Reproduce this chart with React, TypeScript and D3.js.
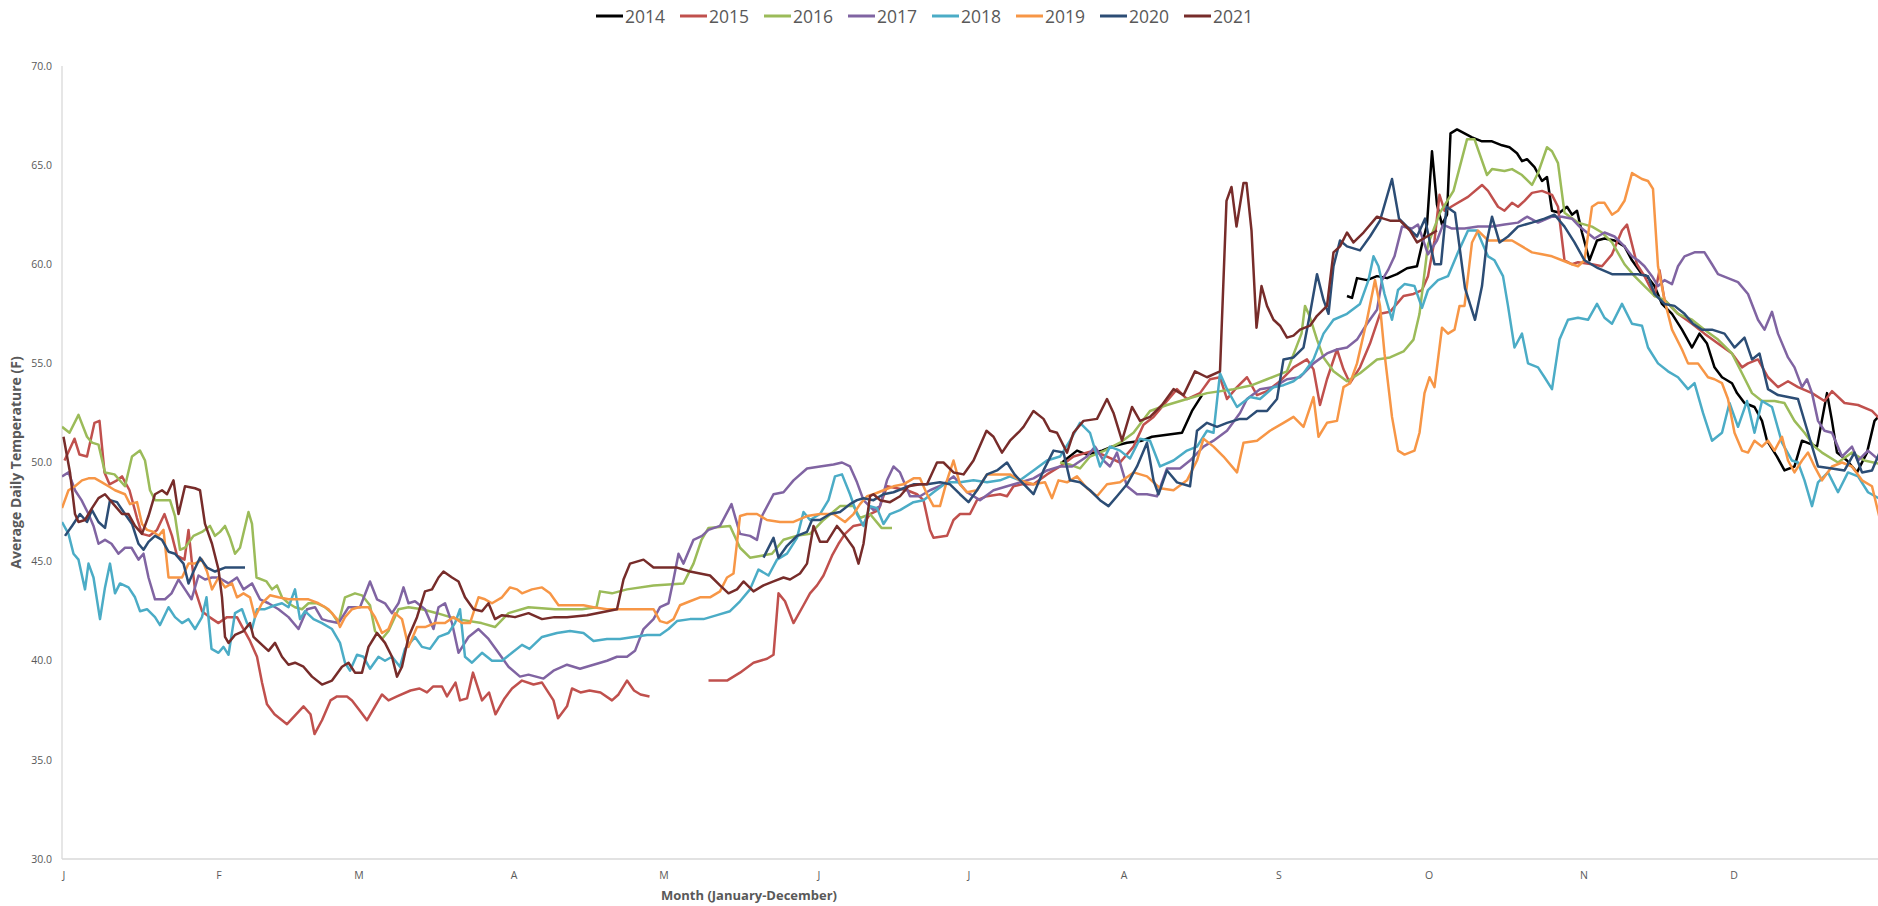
import * as d3 from "d3";

// daily average temperature as [dayOfYear, °F]; null = gap
type Pt = [number, number | null];

const YEARS = ["2014", "2015", "2016", "2017", "2018", "2019", "2020", "2021"];
const COLORS = ["#000000", "#C0504D", "#9BBB59", "#8064A2", "#4BACC6", "#F79646", "#2C4D75", "#772C2A"];

const MONTHS = ["J", "F", "M", "A", "M", "J", "J", "A", "S", "O", "N", "D"];
const MONTH_START = [0, 31, 59, 90, 120, 151, 181, 212, 243, 273, 304, 334];
const Y_TICKS = [30, 35, 40, 45, 50, 55, 60, 65, 70];

const T2014: Pt[] = [
  [200,50.0],[203,50.6],[205,50.4],[208,50.6],[210,50.8],[213,51.0],[216,51.1],[218,51.3],[221,51.4],[224,51.5],[226,52.6],[228,53.4],[240,null],
  [257,58.4],[258,58.3],[259,59.3],[261,59.2],[263,59.4],[265,59.3],[267,59.5],[269,59.8],[271,59.9],[272,61.0],[273,62.0],[274,65.7],[275,63.0],[276,62.0],[277,62.5],[277.7,66.6],[279,66.8],[280.5,66.6],[282,66.4],[284,66.2],[286,66.2],[288,66.0],[289.5,65.9],[291,65.6],[292,65.2],[293,65.3],[294.5,64.9],[296,64.2],[297,64.4],[298,62.7],[299.5,62.6],[301,62.9],[302,62.5],[303,62.7],[304,61.6],[305.5,60.2],[307,61.2],[308.5,61.3],[310.5,61.2],[312.5,60.9],[314,60.2],[316,59.5],[317,59.4],[318.5,58.9],[320,58.0],[322,57.5],[324,56.7],[326,55.8],[327.5,56.5],[329,56.0],[330.5,54.8],[332,54.3],[334,54.0],[335,53.5],[336.5,53.0],[338.5,52.8],[340,52.1],[341,51.1],[343,50.3],[344.5,49.6],[346.5,49.8],[348,51.1],[349,51.0],[351,50.8],[353,53.5],[354,52.1],[355,50.5],[357,50.1],[359,49.5],[361,50.5],[362.5,52.1],[364,52.5],
];

const T2015: Pt[] = [
  [0.5,50.1],[2.5,51.2],[3.5,50.4],[5,50.3],[6.5,52.0],[7.5,52.1],[8.5,49.5],[9.5,48.9],[11,49.1],[12,49.3],[13.5,48.6],[15,47.2],[16,46.4],[17.5,46.3],[19,46.6],[20.5,47.4],[22,46.3],[23,45.3],[24.5,45.1],[25.3,46.6],[26,44.9],[26.6,43.6],[28,42.5],[29.5,42.2],[31.3,41.9],[33,42.2],[35,42.2],[36.3,41.6],[37.6,41.0],[39,40.2],[40,38.9],[41,37.8],[42.5,37.3],[45,36.8],[48.3,37.7],[49.7,37.3],[50.5,36.3],[52,37.0],[53.7,38.0],[55,38.2],[57,38.2],[58,38.0],[59.5,37.5],[61,37.0],[62.6,37.7],[64,38.3],[65.3,38.0],[67,38.2],[69.7,38.5],[71.5,38.6],[73,38.4],[74.2,38.7],[76,38.7],[77,38.2],[78.7,38.9],[79.6,38.0],[81,38.1],[82.2,39.4],[84,38.0],[85.4,38.4],[86.7,37.3],[88.5,38.1],[90,38.6],[92,39.0],[94.3,38.8],[96,38.9],[98.3,38.0],[99.2,37.1],[101,37.7],[102,38.6],[103.7,38.4],[105.5,38.5],[107.7,38.4],[110,38.0],[111.3,38.3],[113,39.0],[114.4,38.5],[115.7,38.3],[117.5,38.2],[123,null],
  [129.3,39.0],[133,39.0],[135.6,39.4],[138.3,39.9],[141,40.1],[142.3,40.3],[143.3,43.4],[144.6,43.0],[146.3,41.9],[148.3,42.8],[149.6,43.4],[151,43.8],[152.3,44.3],[154,45.3],[155.3,45.9],[156.6,46.4],[158.3,46.8],[160.3,46.9],[161.6,47.4],[163.3,47.6],[165,48.8],[167,48.7],[169,48.6],[171,48.4],[172.3,48.1],[173.6,46.6],[174.3,46.2],[177,46.3],[178.3,47.1],[179.6,47.4],[181.6,47.4],[183,48.1],[185,48.3],[187.6,48.4],[189,48.3],[190.3,48.8],[192,48.9],[194.3,48.9],[197,49.4],[199.6,49.8],[202.3,50.3],[206.3,50.6],[209,50.3],[211.6,50.0],[214.3,50.8],[216.3,51.9],[218.3,52.3],[221,53.1],[223,53.7],[225,53.2],[227.6,53.5],[229.6,54.2],[231.6,54.3],[233,53.2],[235,53.8],[237,54.3],[239,53.4],[241,53.6],[243.6,54.1],[246.3,54.8],[249,55.2],[250.3,54.7],[251.6,52.9],[253,54.2],[255,55.7],[256.3,54.7],[257.6,54.0],[259.6,54.8],[261.6,56.0],[263.6,57.5],[265.6,57.6],[268.3,58.4],[270.3,58.5],[272,58.7],[273.2,59.4],[274.5,61.2],[275.5,63.5],[276.5,62.7],[278.5,63.0],[281.2,63.4],[284,64.0],[285.2,63.7],[287.2,62.9],[288.5,62.7],[290,63.1],[291.2,62.9],[292.5,63.2],[294,63.6],[296,63.7],[298,63.5],[299.2,62.9],[300.5,60.2],[302,60.0],[303.2,60.1],[306,60.0],[308,59.9],[310,60.5],[312,61.7],[313,62.0],[314,61.0],[315,60.0],[316.5,59.4],[318.5,58.4],[319.5,59.7],[320.5,58.2],[323.2,57.5],[326,57.0],[328.5,56.5],[331.2,56.0],[334,55.5],[336,54.8],[337.2,55.0],[339.2,55.2],[341.2,54.3],[343.2,53.8],[345.2,54.1],[347.2,53.8],[350,53.5],[352.5,53.1],[354,53.6],[356.5,53.0],[359.2,52.9],[362,52.6],[364,52.1],
];

const T2016: Pt[] = [
  [0,51.8],[1.5,51.5],[3.3,52.4],[5,51.3],[6,51.0],[7.3,50.9],[8.6,49.5],[10.5,49.4],[12.6,48.8],[14,50.3],[15.6,50.6],[16.6,50.1],[17.6,48.6],[18.6,48.1],[20,48.1],[21.6,48.1],[22.6,47.3],[23.6,45.6],[24.6,45.7],[26.3,46.3],[28,46.5],[29.6,46.8],[30.6,46.3],[31.6,46.5],[32.6,46.8],[33.6,46.2],[34.6,45.4],[35.6,45.7],[37.3,47.5],[38,46.9],[38.9,44.2],[40.9,44.0],[42,43.6],[43,43.8],[44,43.2],[45.3,42.9],[46.6,42.7],[48,42.6],[49.3,42.9],[51,42.9],[52.6,42.7],[54,42.4],[55.3,41.9],[56.6,43.2],[58.6,43.4],[60,43.3],[61.6,42.8],[62.6,41.5],[64,41.1],[65.3,41.5],[67.3,42.6],[69.3,42.7],[72,42.6],[75,42.4],[79,42.1],[83.9,41.9],[86.6,41.7],[89.3,42.4],[93.3,42.7],[98.6,42.6],[104,42.6],[106.9,42.7],[107.6,43.5],[110,43.4],[113,43.6],[118.3,43.8],[124.3,43.9],[126.3,44.9],[127.9,46.1],[129.3,46.7],[133.6,46.8],[135.6,45.7],[137.6,45.2],[139.9,45.3],[142,45.4],[144.3,46.1],[146.9,46.3],[149.6,46.4],[152.3,47.1],[155.6,47.8],[158.3,47.8],[159.6,47.2],[161.6,47.4],[163.9,46.7],[166,46.7],[180,null],
  [199.6,50.0],[201.5,49.9],[203.6,49.7],[205.6,50.3],[208.5,50.6],[211.6,51.0],[214.3,51.5],[217.6,52.6],[221,52.9],[225,53.2],[229,53.5],[234.3,53.7],[238,53.9],[241,54.2],[245,54.6],[247.9,56.5],[248.6,57.9],[249.5,57.4],[251,56.2],[252.3,55.3],[254.3,54.6],[257,54.1],[259.6,54.5],[263,55.2],[265.6,55.3],[268.3,55.6],[270.3,56.2],[271.5,57.5],[273.2,61.0],[275.6,62.6],[278.3,63.7],[281,66.3],[282.5,66.3],[285,64.5],[286,64.8],[288.5,64.7],[290,64.8],[292,64.5],[294,64.0],[295.2,64.6],[297,65.9],[298,65.7],[299.2,65.1],[300.5,62.6],[303.2,62.1],[306,61.9],[308,61.6],[310,61.1],[312.5,60.0],[314.5,59.4],[316.5,58.9],[318.5,58.4],[320.5,58.2],[323.2,57.5],[326,57.2],[328.5,56.7],[331.2,56.2],[334,55.5],[336,54.5],[338,53.5],[340,53.1],[342.5,53.1],[344.5,53.0],[346.5,52.1],[348.5,51.5],[350.5,50.8],[352,50.5],[355.2,50.0],[358,50.5],[360.5,50.1],[364,49.9],
];

const T2017: Pt[] = [
  [0,49.3],[1.3,49.5],[2.6,48.6],[3.9,48.1],[5.3,47.4],[6.3,46.8],[7.3,45.9],[8.6,46.1],[9.9,45.9],[11.3,45.4],[12.6,45.7],[13.9,45.7],[15.3,45.1],[16.3,45.4],[17.3,44.2],[18.6,43.1],[20.6,43.1],[21.9,43.4],[23.3,44.1],[24.6,43.6],[25.9,43.1],[27.3,44.3],[28.6,44.1],[30,44.2],[31.3,44.2],[33.3,43.9],[35,44.2],[36.3,43.6],[38,43.9],[39.6,43.1],[41.3,42.9],[43.3,42.6],[45.3,42.2],[47.3,41.6],[49,42.6],[50.6,42.7],[52,42.1],[53.3,42.0],[55.3,41.9],[57.3,42.7],[59.6,42.7],[61.6,44.0],[63,43.1],[64.6,42.9],[66,42.4],[67.3,42.9],[68.3,43.7],[69.3,42.9],[70.6,43.0],[72.6,42.6],[74.3,41.6],[75.3,42.7],[76.6,42.9],[78,41.9],[79.3,40.4],[81.3,41.2],[83.3,41.6],[85.3,41.1],[87.3,40.4],[89.3,39.7],[91.6,39.2],[93.3,39.3],[96.3,39.1],[98.3,39.5],[101,39.8],[103.6,39.6],[106.3,39.8],[109,40.0],[111,40.2],[113,40.2],[114.6,40.5],[116.3,41.6],[118.3,42.1],[119.6,42.7],[121.3,42.9],[122.3,44.1],[123.3,45.4],[124.3,44.9],[126.3,46.1],[128,46.3],[129.3,46.6],[131.6,46.8],[133.9,47.9],[135.6,46.4],[137.6,46.3],[139,46.1],[140,47.3],[142.3,48.4],[144.3,48.5],[146.3,49.1],[149,49.7],[151.6,49.8],[154.3,49.9],[156,50.0],[157.6,49.8],[159,49.0],[160.3,48.1],[162.3,47.6],[163.6,47.8],[165,49.1],[166.3,49.8],[167.6,49.5],[169.6,48.3],[171.6,48.3],[173.6,48.6],[176.3,48.9],[178.3,49.3],[181,48.5],[183.6,48.1],[186.3,48.6],[189,48.8],[191.6,49.0],[194.3,49.2],[197,49.6],[199.6,49.8],[202,49.8],[205,50.3],[206.6,50.8],[208.3,50.1],[209.6,49.8],[211,50.5],[213,48.8],[215,48.4],[217,48.4],[219,48.3],[221,49.7],[223.6,49.7],[225.6,50.1],[228.3,50.8],[230.3,51.1],[233,51.6],[235.6,52.5],[237,53.2],[239.6,53.7],[242.3,53.8],[245,54.2],[247.6,54.3],[250.3,55.0],[253,55.5],[255,55.7],[257,55.8],[259,56.2],[261,57.0],[263,57.7],[264,59.2],[265.2,59.7],[266.5,60.4],[268,61.9],[270,61.8],[271.2,62.0],[273.2,60.5],[275,61.2],[276.2,62.0],[278,61.8],[280.5,61.8],[283.2,61.9],[286,61.9],[288.5,62.0],[291.2,62.1],[293,62.4],[295.2,62.1],[298,62.4],[300,62.4],[302,62.3],[303.5,61.9],[305,61.6],[306.5,61.3],[308.5,61.6],[310.5,61.4],[312.5,60.9],[314,60.4],[315.2,60.2],[316.5,59.9],[318,59.4],[319.2,58.9],[320.5,59.2],[322,59.0],[323.2,59.9],[324.5,60.4],[326.5,60.6],[328.5,60.6],[330,60.0],[331.2,59.5],[333.2,59.3],[335.2,59.1],[337.2,58.5],[339.2,57.2],[340.5,56.7],[342,57.6],[343.2,56.5],[345.2,55.3],[346.5,54.8],[348,53.8],[349,54.2],[350,53.5],[351.2,52.1],[352.5,51.6],[354,51.5],[356,50.3],[358,50.8],[359.2,50.1],[361.2,50.6],[364,50.0],
];

const T2018: Pt[] = [
  [0,47.0],[1.3,46.4],[2.3,45.4],[3.3,45.1],[4.6,43.6],[5.3,44.9],[6.3,44.2],[7.6,42.1],[8.6,43.7],[9.6,44.9],[10.6,43.4],[11.6,43.9],[13.3,43.7],[14.6,43.2],[15.6,42.5],[17,42.6],[18.6,42.2],[19.6,41.8],[21.3,42.7],[22.6,42.2],[24,41.9],[25.3,42.1],[26.6,41.6],[28,42.2],[28.9,43.2],[29.9,40.6],[31.3,40.4],[32.3,40.7],[33.3,40.3],[34.6,42.4],[36,42.6],[37,41.9],[38,41.6],[39,42.6],[40.6,42.6],[42.6,42.8],[44,42.9],[45.3,42.7],[46.6,43.6],[47.6,42.1],[48.6,42.5],[50.3,42.1],[52,41.9],[54,41.6],[55.6,40.9],[56.6,39.9],[57.6,39.5],[59,40.3],[60.3,40.2],[61.6,39.6],[63.3,40.2],[64.6,40.0],[66,40.2],[67.6,39.7],[68.6,40.6],[70.6,41.2],[72,40.7],[73.6,40.6],[75.3,41.2],[77.3,41.4],[78.6,41.9],[79.6,42.6],[80.6,40.2],[82,39.9],[84,40.4],[86,40.0],[88,40.0],[90,40.4],[92,40.8],[93.5,40.6],[96,41.2],[99,41.4],[101.6,41.5],[104.3,41.4],[106.3,41.0],[109,41.1],[111.6,41.1],[114.3,41.2],[117,41.3],[119.6,41.3],[121.3,41.6],[123,42.0],[125.6,42.1],[128.3,42.1],[131,42.3],[133.6,42.5],[135.6,43.0],[137.6,43.6],[139.3,44.6],[141.3,44.3],[143,45.1],[145,45.4],[147,46.2],[148.3,47.5],[149.6,47.1],[151.6,47.4],[153.3,48.1],[154.6,49.3],[156,49.4],[157.6,48.4],[159,47.4],[160.3,46.8],[161.6,47.8],[163,47.7],[164.3,46.9],[165.6,47.4],[167.6,47.6],[170.3,48.0],[172.3,48.1],[174.3,48.5],[177,49.0],[179.6,49.0],[182.3,49.1],[185,49.0],[187.6,49.1],[189.6,49.3],[191.6,49.1],[194.3,49.6],[197,50.1],[199.6,50.3],[201.6,51.1],[203.6,52.0],[205.6,51.5],[207.6,49.8],[209.6,50.8],[211.6,50.6],[213.6,50.2],[215.6,51.2],[217.6,51.1],[219.6,49.8],[222.3,50.1],[225,50.6],[227,50.8],[229,51.6],[230.3,51.5],[231.6,54.5],[233,53.7],[235,52.8],[237.6,53.3],[239.6,53.2],[242.3,53.8],[244.3,53.9],[246.3,54.1],[248.3,54.5],[250.3,55.2],[252.3,56.5],[254.3,57.2],[257,57.5],[259.6,58.0],[261.3,59.2],[262.3,60.4],[263.3,59.9],[264.5,58.5],[266,57.2],[267.2,58.7],[268.5,59.0],[270.5,58.9],[272,57.8],[273.2,58.7],[275.2,59.2],[277.2,59.4],[279.2,60.6],[281.2,61.7],[283,61.7],[284,61.1],[285.2,60.4],[286.5,60.2],[288.2,59.4],[289.2,57.9],[290.5,55.8],[292,56.5],[293.2,55.0],[295.2,54.8],[296.5,54.3],[298,53.7],[299.5,56.2],[301.2,57.2],[303.2,57.3],[305.2,57.2],[307,58.0],[308.5,57.3],[310,57.0],[312,58.0],[314,57.0],[316,56.9],[317.2,55.8],[319.2,55.0],[321.2,54.6],[323.2,54.3],[325.2,53.7],[326.5,54.0],[328.2,52.5],[330,51.1],[332,51.5],[333.5,53.0],[335.2,51.8],[337,53.1],[338.5,51.5],[340,53.1],[342,52.8],[344,51.0],[346,50.1],[347.2,50.0],[348.5,49.1],[350,47.8],[351.2,49.0],[353.2,49.5],[355.2,48.5],[357.2,49.5],[359.2,49.3],[361.2,48.5],[364,48.1],
];

const T2019: Pt[] = [
  [0,47.7],[1.3,48.6],[2.6,48.8],[4,49.1],[5.3,49.2],[6.6,49.2],[8,49.0],[9.3,48.8],[10.6,48.6],[12.6,48.4],[13.6,47.9],[15,48.0],[16,46.9],[17,46.6],[18.3,46.5],[19.3,46.3],[20.3,46.6],[21.3,44.2],[22.6,44.2],[24,44.2],[25.3,44.9],[26.6,44.9],[28,45.1],[29,44.5],[30,43.6],[31.3,44.2],[32.6,43.7],[34,43.9],[35,43.2],[36.3,43.4],[37.6,43.2],[38.6,42.2],[40,42.9],[41.6,43.3],[43.3,43.2],[45.3,43.1],[47.3,43.1],[49.3,43.1],[51.3,42.9],[53.3,42.6],[55,42.1],[55.6,41.7],[56.6,42.2],[58,42.6],[59.3,42.7],[61.3,42.7],[62.6,42.2],[64,41.4],[65.3,41.6],[66.6,42.4],[68,42.1],[69.3,40.7],[71,41.7],[72.6,41.7],[74.6,41.9],[76.6,41.9],[78.3,42.2],[80,41.9],[81.6,41.9],[83.3,43.2],[84.6,43.1],[86,42.9],[88,43.2],[89.6,43.7],[91,43.6],[92,43.4],[94,43.6],[96,43.7],[97.6,43.4],[99.3,42.8],[101.6,42.8],[104.3,42.8],[106.3,42.7],[109,42.6],[111.6,42.6],[114.3,42.6],[117,42.6],[118.3,42.6],[119.6,42.0],[121,41.9],[122.3,42.1],[123.6,42.8],[125.6,43.0],[127.6,43.2],[129.6,43.2],[131.6,43.5],[133,44.2],[134.3,44.4],[135.6,47.3],[137,47.4],[139,47.4],[141,47.1],[143.6,47.0],[146.3,47.0],[149,47.3],[151.6,47.4],[154.3,47.4],[156.6,47.0],[158.3,47.4],[159.6,47.9],[161,48.3],[162.3,48.4],[164.3,48.6],[166.3,48.8],[168.3,48.9],[170.3,49.2],[171.6,49.2],[173,48.4],[174.3,47.8],[175.6,47.8],[177,49.1],[178.3,50.1],[179.6,48.9],[181,48.5],[183,48.6],[185,49.4],[187.6,49.4],[189.6,49.4],[191.6,49.1],[194.3,48.9],[196.6,49.0],[198,48.2],[199.3,49.1],[201,49.0],[203,49.3],[205,48.7],[207,48.3],[209,48.9],[211.6,49.0],[214.3,49.5],[217,49.3],[219.6,48.7],[222.3,48.6],[225,49.1],[227,50.1],[228.3,51.2],[230.3,50.8],[232.3,50.3],[235,49.5],[236.3,51.0],[239,51.1],[241.6,51.6],[244.3,52.0],[246.3,52.3],[248.3,51.8],[250.3,53.3],[251.3,51.3],[253,52.0],[255,52.1],[256.3,53.8],[257.6,54.0],[259,55.0],[261,57.2],[262.6,59.2],[263.6,57.9],[264.5,55.5],[266,52.3],[267.2,50.6],[268.5,50.4],[270.5,50.6],[271.5,51.5],[272.5,53.5],[273.5,54.3],[274.5,53.8],[276,56.8],[277.2,56.5],[278.5,56.7],[279.5,57.9],[280.5,57.9],[282,61.1],[283.2,61.7],[285.2,61.2],[288,61.2],[290,61.2],[292,60.9],[294,60.6],[296,60.5],[298,60.4],[300,60.2],[302,60.0],[303.2,59.9],[304.5,60.2],[306,62.9],[307.2,63.1],[308.5,63.1],[310,62.5],[311.2,62.7],[312.5,63.2],[314,64.6],[316,64.3],[317.2,64.2],[318.2,63.8],[319.2,59.9],[320.5,58.2],[322,56.7],[324,55.7],[325.2,55.0],[327.2,55.0],[329.2,54.3],[330.5,54.2],[332,54.0],[333.2,53.2],[334.5,51.5],[336,50.6],[337.2,50.5],[338.5,51.1],[340,50.8],[341.2,51.1],[342.5,50.6],[344,51.3],[345.2,50.1],[346.5,49.5],[348,50.1],[349.2,50.5],[350.5,49.8],[352,49.1],[354,49.8],[356,50.0],[358,49.8],[360,49.1],[362,48.8],[364,46.7],
];

const T2020: Pt[] = [
  [0.6,46.3],[2,46.8],[3.6,47.4],[5,47.0],[6,47.6],[7.3,47.0],[8.6,46.7],[9.6,48.1],[11,48.0],[12.6,47.4],[14,46.9],[15.3,45.9],[16.3,45.6],[17.3,46.0],[18.6,46.3],[20,46.1],[21.3,45.5],[22.6,45.4],[24.3,44.9],[25.3,43.9],[26.3,44.5],[27.6,45.2],[29,44.7],[30.6,44.5],[32.6,44.7],[34.6,44.7],[36.6,44.7],[80,null],
  [140.3,45.2],[142.3,46.2],[143.3,45.2],[145,45.8],[147,46.3],[149,46.5],[150,47.1],[151.6,47.1],[153.6,47.4],[155.6,47.5],[157.6,47.9],[159,48.1],[160.3,48.2],[162.3,48.1],[164.3,48.4],[166.3,48.5],[168.3,48.7],[170.3,48.9],[173,48.9],[175.6,49.0],[177.6,48.9],[179.6,48.4],[181.3,48.0],[183,48.6],[185,49.4],[187,49.6],[189,50.0],[190.5,49.4],[192,49.0],[194.3,48.4],[196.3,49.6],[198.3,50.6],[200.3,50.5],[201.6,49.1],[203.6,49.0],[205.6,48.6],[207.6,48.1],[209.3,47.8],[211,48.3],[213,48.9],[215,49.8],[217,51.0],[218.3,49.1],[219.3,48.4],[221,49.6],[223,49.0],[225.6,48.8],[227,51.6],[229,52.0],[231,51.8],[233,52.0],[235.6,52.2],[237,52.2],[239,52.6],[241,52.6],[243,53.2],[244.3,55.2],[246.3,55.3],[248.3,55.8],[249.6,57.5],[251,59.5],[252.3,58.2],[253.3,57.5],[254.3,59.9],[255.6,61.2],[257,60.9],[259.6,60.7],[261.6,61.4],[263.6,62.2],[266,64.3],[267.4,62.3],[269.8,61.7],[271,61.4],[272.6,62.3],[274.5,60.0],[275.8,60.0],[276.9,62.9],[278.6,62.6],[280.6,58.8],[282.6,57.2],[284,58.9],[285,61.2],[286,62.4],[287.5,61.1],[289.2,61.4],[291.2,61.9],[294,62.1],[296.5,62.3],[298.5,62.5],[300.5,61.9],[302.5,61.1],[304.5,60.2],[307.2,59.8],[310,59.5],[312.5,59.5],[315.2,59.5],[317.2,59.4],[318.5,58.5],[320.5,58.0],[322.5,57.9],[324.5,57.5],[326.2,57.0],[328,56.7],[330,56.7],[332.5,56.5],[334.5,55.8],[336.5,56.3],[338,55.2],[339.5,55.5],[341.2,53.7],[343.2,53.4],[345.2,53.3],[347.2,53.2],[349.2,51.5],[351.2,49.8],[354,49.7],[356.5,49.6],[358.5,50.5],[360,49.5],[362,49.6],[364,50.8],
];

const T2021: Pt[] = [
  [0.3,51.3],[1.6,49.5],[2.6,47.4],[3.3,47.0],[4.6,47.1],[6,47.7],[7.3,48.2],[8.6,48.4],[10.3,47.9],[12,47.4],[13.3,47.4],[14.6,46.8],[16,46.4],[17.3,47.3],[18.6,48.4],[20,48.6],[21,48.4],[22.3,49.1],[23.3,47.4],[24.6,48.8],[26.6,48.7],[27.6,48.6],[28.6,46.9],[30,45.9],[31.3,44.6],[32,43.2],[32.6,41.2],[33.3,40.9],[34.6,41.3],[36.3,41.5],[37.6,41.9],[38.3,41.2],[40,40.8],[41.3,40.5],[42.6,40.9],[44,40.2],[45.3,39.8],[46.6,39.9],[48.3,39.7],[50,39.2],[52,38.8],[54,39.0],[56,39.7],[57.3,39.9],[58.6,39.4],[60,39.4],[61.3,40.7],[63,41.4],[64.6,40.9],[66,40.2],[67,39.2],[68,39.7],[69.3,41.2],[71,42.2],[72.6,43.5],[74,43.6],[75.3,44.2],[76.3,44.5],[78,44.2],[79.3,44.0],[80.6,43.2],[82.3,42.6],[84,42.5],[85.3,42.9],[86.6,42.1],[88,42.3],[90.6,42.2],[93.3,42.4],[96,42.1],[98.5,42.2],[101,42.2],[105,42.3],[109,42.5],[111,42.6],[112.3,44.1],[113.6,44.9],[116.3,45.1],[118.3,44.7],[120.3,44.7],[123,44.7],[125.6,44.5],[129.6,44.3],[131.6,43.8],[133.3,43.4],[135,43.6],[136.3,44.0],[138.3,43.5],[140.3,43.8],[142.3,44.0],[144.3,44.2],[145.6,44.1],[147.6,44.4],[149,44.9],[150.3,46.8],[151.6,46.0],[153,46.0],[155,46.8],[156.6,46.3],[158.3,45.7],[159.3,44.9],[160.3,45.9],[161.6,48.3],[162.3,48.4],[163.6,48.1],[165.6,48.0],[167.6,48.3],[169.3,48.8],[171.6,48.9],[173,48.9],[175,50.0],[176.3,50.0],[178.3,49.5],[180.3,49.4],[182.3,50.1],[184.9,51.6],[186.3,51.3],[188,50.5],[189.6,51.1],[191.6,51.6],[192.3,51.8],[194.3,52.6],[196.3,52.2],[197.6,51.6],[199,51.5],[201,50.5],[202.3,51.5],[204.3,52.1],[207,52.2],[209,53.2],[210.3,52.5],[212,51.1],[214,52.8],[215.6,52.1],[217.6,52.3],[220,52.9],[222.3,53.7],[224.3,53.4],[226.6,54.6],[229,54.3],[231.6,54.6],[232.9,63.2],[233.9,63.9],[234.9,61.9],[236.3,64.1],[236.9,64.1],[237.9,61.7],[238.9,56.8],[239.9,58.9],[241,57.9],[242.3,57.2],[243.6,56.9],[245,56.3],[246.3,56.4],[247.6,56.7],[249.6,56.9],[251,57.4],[253,57.9],[254.3,60.6],[255.6,60.9],[257,61.6],[258.3,61.1],[260.3,61.6],[263,62.4],[265.6,62.2],[267.6,62.2],[269.6,61.7],[271,61.1],[273,61.4],[275,61.7],
];

const SERIES = [T2014, T2015, T2016, T2017, T2018, T2019, T2020, T2021];

const W = 1878;
const H = 906;
const LEFT = 62;
const TOP = 66;
const BOTTOM = 859;
const FONT = "'Open Sans', 'Liberation Sans', sans-serif";
const GREY = "#595959";

export default function App() {
  const x = d3.scaleLinear().domain([0, 365]).range([LEFT, LEFT + 365 * 5]);
  const y = d3.scaleLinear().domain([30, 70]).range([BOTTOM, TOP]);

  const line = d3
    .line<Pt>()
    .defined(d => d[1] !== null)
    .x(d => x(d[0]))
    .y(d => y(d[1] as number));

  return (
    <svg
      width={W}
      height={H}
      style={{ position: "absolute", left: 0, top: 0, background: "#fff" }}
      fontFamily={FONT}
    >
      <defs>
        <clipPath id="plot">
          <rect x={LEFT} y={0} width={W - LEFT} height={BOTTOM + 2} />
        </clipPath>
      </defs>

      {/* legend */}
      {YEARS.map((yr, i) => {
        const lx = 596 + i * 84;
        return (
          <g key={yr}>
            <line x1={lx} x2={lx + 27} y1={16} y2={16} stroke={COLORS[i]} strokeWidth={3} />
            <text x={lx + 29} y={22.5} fontSize={17.5} fill={GREY}>{yr}</text>
          </g>
        );
      })}

      {/* axes */}
      <line x1={LEFT} x2={LEFT} y1={TOP} y2={BOTTOM} stroke="#d9d9d9" strokeWidth={1.3} />
      <line x1={LEFT} x2={W} y1={BOTTOM} y2={BOTTOM} stroke="#d9d9d9" strokeWidth={1.3} />

      {Y_TICKS.map(t => (
        <text key={t} x={52} y={y(t)} dy="0.35em" textAnchor="end" fontSize={10.5} fill={GREY}>
          {t.toFixed(1)}
        </text>
      ))}
      {MONTHS.map((m, i) => (
        <text key={i} x={x(MONTH_START[i]) + 2} y={879} textAnchor="middle" fontSize={10.5} fill={GREY}>
          {m}
        </text>
      ))}

      <text
        transform={`translate(21,${(TOP + BOTTOM) / 2}) rotate(-90)`}
        textAnchor="middle"
        fontSize={14}
        fontWeight="bold"
        fill={GREY}
      >
        Average Daily Temperature (F)
      </text>
      <text x={749} y={900} textAnchor="middle" fontSize={13} fontWeight="bold" fill={GREY}>
        Month (January-December)
      </text>

      {/* series, later years drawn on top */}
      <g clipPath="url(#plot)" fill="none" strokeWidth={2.5} strokeLinejoin="round">
        {SERIES.map((s, i) => (
          <path key={YEARS[i]} d={line(s) ?? ""} stroke={COLORS[i]} />
        ))}
      </g>
    </svg>
  );
}
